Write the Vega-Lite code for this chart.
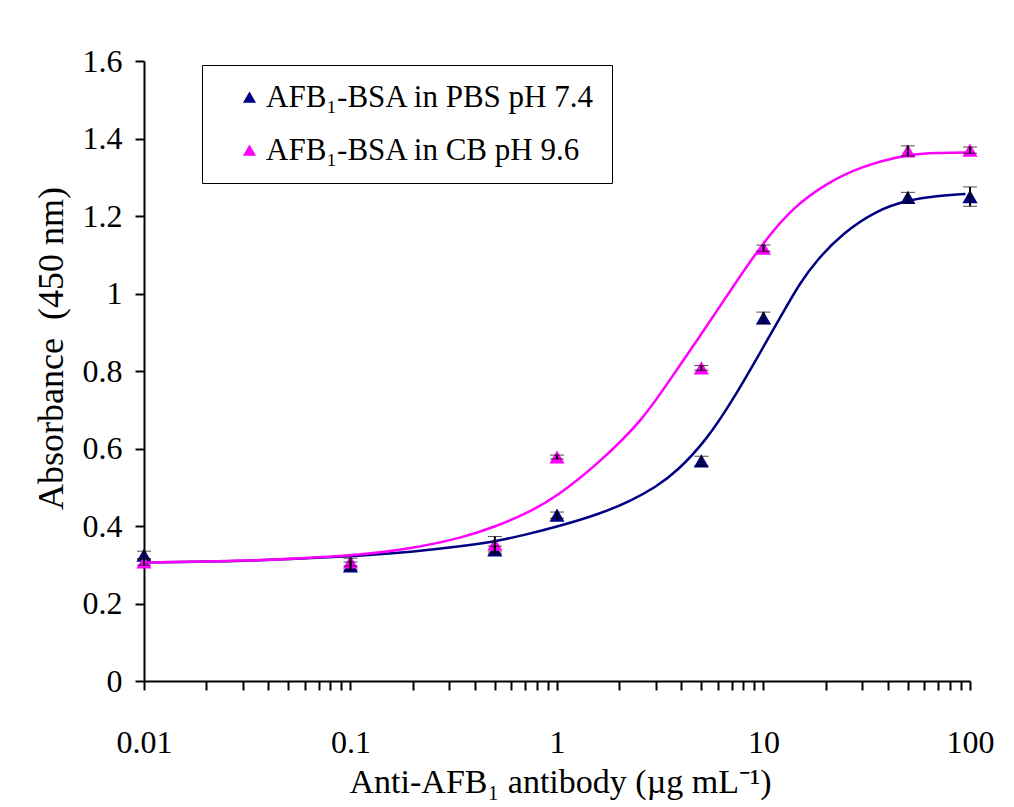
{
  "$schema": "https://vega.github.io/schema/vega-lite/v6.json",
  "width": 826,
  "height": 620,
  "autosize": {"type": "none"},
  "padding": {"left": 144, "top": 61, "right": 44, "bottom": 126},
  "background": "white",
  "config": {
    "view": {"stroke": null},
    "font": "'Liberation Serif', 'Times New Roman', Times, serif",
    "axis": {
      "labelFont": "'Liberation Serif', 'Times New Roman', Times, serif",
      "titleFont": "'Liberation Serif', 'Times New Roman', Times, serif",
      "labelFontWeight": "normal",
      "titleFontWeight": "normal",
      "labelColor": "black",
      "titleColor": "black",
      "domainColor": "black",
      "tickColor": "black",
      "domainWidth": 2,
      "tickWidth": 2,
      "grid": false
    },
    "legend": {
      "labelFont": "'Liberation Serif', 'Times New Roman', Times, serif",
      "labelColor": "black"
    }
  },
  "datasets": {
    "points": [
      {"conc": 0.01, "absorbance": 0.325, "sd": 0.010, "series": "AFB₁-BSA in PBS pH 7.4"},
      {"conc": 0.1, "absorbance": 0.297, "sd": 0.010, "series": "AFB₁-BSA in PBS pH 7.4"},
      {"conc": 0.5, "absorbance": 0.338, "sd": 0.010, "series": "AFB₁-BSA in PBS pH 7.4"},
      {"conc": 1, "absorbance": 0.428, "sd": 0.008, "series": "AFB₁-BSA in PBS pH 7.4"},
      {"conc": 5, "absorbance": 0.568, "sd": 0.012, "series": "AFB₁-BSA in PBS pH 7.4"},
      {"conc": 10, "absorbance": 0.937, "sd": 0.015, "series": "AFB₁-BSA in PBS pH 7.4"},
      {"conc": 50, "absorbance": 1.248, "sd": 0.013, "series": "AFB₁-BSA in PBS pH 7.4"},
      {"conc": 100, "absorbance": 1.250, "sd": 0.025, "series": "AFB₁-BSA in PBS pH 7.4"},
      {"conc": 0.01, "absorbance": 0.307, "sd": 0.008, "series": "AFB₁-BSA in CB pH 9.6"},
      {"conc": 0.1, "absorbance": 0.307, "sd": 0.010, "series": "AFB₁-BSA in CB pH 9.6"},
      {"conc": 0.5, "absorbance": 0.353, "sd": 0.020, "series": "AFB₁-BSA in CB pH 9.6"},
      {"conc": 1, "absorbance": 0.578, "sd": 0.005, "series": "AFB₁-BSA in CB pH 9.6"},
      {"conc": 5, "absorbance": 0.808, "sd": 0.006, "series": "AFB₁-BSA in CB pH 9.6"},
      {"conc": 10, "absorbance": 1.117, "sd": 0.008, "series": "AFB₁-BSA in CB pH 9.6"},
      {"conc": 50, "absorbance": 1.368, "sd": 0.013, "series": "AFB₁-BSA in CB pH 9.6"},
      {"conc": 100, "absorbance": 1.370, "sd": 0.008, "series": "AFB₁-BSA in CB pH 9.6"}
    ],
    "fits": [
      {"conc": 0.01, "absorbance": 0.306, "series": "AFB₁-BSA in PBS pH 7.4"},
      {"conc": 0.03, "absorbance": 0.309, "series": "AFB₁-BSA in PBS pH 7.4"},
      {"conc": 0.1, "absorbance": 0.321, "series": "AFB₁-BSA in PBS pH 7.4"},
      {"conc": 0.2, "absorbance": 0.333, "series": "AFB₁-BSA in PBS pH 7.4"},
      {"conc": 0.35, "absorbance": 0.348, "series": "AFB₁-BSA in PBS pH 7.4"},
      {"conc": 0.5, "absorbance": 0.360, "series": "AFB₁-BSA in PBS pH 7.4"},
      {"conc": 0.7, "absorbance": 0.377, "series": "AFB₁-BSA in PBS pH 7.4"},
      {"conc": 1.0, "absorbance": 0.398, "series": "AFB₁-BSA in PBS pH 7.4"},
      {"conc": 1.6, "absorbance": 0.430, "series": "AFB₁-BSA in PBS pH 7.4"},
      {"conc": 2.32, "absorbance": 0.467, "series": "AFB₁-BSA in PBS pH 7.4"},
      {"conc": 3.0, "absorbance": 0.500, "series": "AFB₁-BSA in PBS pH 7.4"},
      {"conc": 3.8, "absorbance": 0.540, "series": "AFB₁-BSA in PBS pH 7.4"},
      {"conc": 5.3, "absorbance": 0.622, "series": "AFB₁-BSA in PBS pH 7.4"},
      {"conc": 7.1, "absorbance": 0.725, "series": "AFB₁-BSA in PBS pH 7.4"},
      {"conc": 9.6, "absorbance": 0.846, "series": "AFB₁-BSA in PBS pH 7.4"},
      {"conc": 12.4, "absorbance": 0.950, "series": "AFB₁-BSA in PBS pH 7.4"},
      {"conc": 15.0, "absorbance": 1.027, "series": "AFB₁-BSA in PBS pH 7.4"},
      {"conc": 18.1, "absorbance": 1.086, "series": "AFB₁-BSA in PBS pH 7.4"},
      {"conc": 24.2, "absorbance": 1.156, "series": "AFB₁-BSA in PBS pH 7.4"},
      {"conc": 35.4, "absorbance": 1.215, "series": "AFB₁-BSA in PBS pH 7.4"},
      {"conc": 50, "absorbance": 1.241, "series": "AFB₁-BSA in PBS pH 7.4"},
      {"conc": 69, "absorbance": 1.252, "series": "AFB₁-BSA in PBS pH 7.4"},
      {"conc": 95, "absorbance": 1.257, "series": "AFB₁-BSA in PBS pH 7.4"},
      {"conc": 0.01, "absorbance": 0.306, "series": "AFB₁-BSA in CB pH 9.6"},
      {"conc": 0.03, "absorbance": 0.309, "series": "AFB₁-BSA in CB pH 9.6"},
      {"conc": 0.1, "absorbance": 0.322, "series": "AFB₁-BSA in CB pH 9.6"},
      {"conc": 0.2, "absorbance": 0.342, "series": "AFB₁-BSA in CB pH 9.6"},
      {"conc": 0.35, "absorbance": 0.370, "series": "AFB₁-BSA in CB pH 9.6"},
      {"conc": 0.5, "absorbance": 0.398, "series": "AFB₁-BSA in CB pH 9.6"},
      {"conc": 0.7, "absorbance": 0.430, "series": "AFB₁-BSA in CB pH 9.6"},
      {"conc": 1.0, "absorbance": 0.476, "series": "AFB₁-BSA in CB pH 9.6"},
      {"conc": 1.6, "absorbance": 0.563, "series": "AFB₁-BSA in CB pH 9.6"},
      {"conc": 2.6, "absorbance": 0.673, "series": "AFB₁-BSA in CB pH 9.6"},
      {"conc": 3.6, "absorbance": 0.785, "series": "AFB₁-BSA in CB pH 9.6"},
      {"conc": 4.9, "absorbance": 0.888, "series": "AFB₁-BSA in CB pH 9.6"},
      {"conc": 7.1, "absorbance": 1.017, "series": "AFB₁-BSA in CB pH 9.6"},
      {"conc": 9.9, "absorbance": 1.130, "series": "AFB₁-BSA in CB pH 9.6"},
      {"conc": 13.9, "absorbance": 1.223, "series": "AFB₁-BSA in CB pH 9.6"},
      {"conc": 20.3, "absorbance": 1.285, "series": "AFB₁-BSA in CB pH 9.6"},
      {"conc": 29.3, "absorbance": 1.327, "series": "AFB₁-BSA in CB pH 9.6"},
      {"conc": 50, "absorbance": 1.360, "series": "AFB₁-BSA in CB pH 9.6"},
      {"conc": 70, "absorbance": 1.363, "series": "AFB₁-BSA in CB pH 9.6"},
      {"conc": 100, "absorbance": 1.364, "series": "AFB₁-BSA in CB pH 9.6"}
    ]
  },
  "encoding": {
    "x": {
      "field": "conc",
      "type": "quantitative",
      "scale": {"type": "log", "domain": [0.01, 100], "nice": false},
      "axis": {
        "title": "Anti-AFB₁ antibody (µg mL⁻¹)",
        "values": [0.01, 0.02, 0.03, 0.04, 0.05, 0.06, 0.07, 0.08, 0.09,
                   0.1, 0.2, 0.3, 0.4, 0.5, 0.6, 0.7, 0.8, 0.9,
                   1, 2, 3, 4, 5, 6, 7, 8, 9,
                   10, 20, 30, 40, 50, 60, 70, 80, 90, 100],
        "labelExpr": "(datum.value == 0.01 || datum.value == 0.1 || datum.value == 1 || datum.value == 10 || datum.value == 100) ? datum.label : ''",
        "format": "~g",
        "labelFontSize": 32,
        "labelBaseline": "alphabetic",
        "labelPadding": 62,
        "labelOverlap": false,
        "labelFlush": false,
        "labelBound": false,
        "tickSize": 9,
        "titleFontSize": 34,
        "titleBaseline": "alphabetic",
        "titleX": 416,
        "titleY": 111,
        "titleAlign": "center"
      }
    },
    "y": {
      "field": "absorbance",
      "type": "quantitative",
      "scale": {"domain": [0, 1.6], "nice": false, "zero": false},
      "axis": {
        "title": "Absorbance\u00a0 (450 nm)",
        "values": [0, 0.2, 0.4, 0.6, 0.8, 1, 1.2, 1.4, 1.6],
        "format": "~f",
        "labelFontSize": 32,
        "labelPadding": 13,
        "labelBaseline": "middle",
        "tickSize": 9,
        "titleFontSize": 36,
        "titleBaseline": "alphabetic",
        "titleAngle": 270,
        "titleX": -82,
        "titleY": 287,
        "titleAlign": "center"
      }
    }
  },
  "layer": [
    {
      "data": {"name": "points"},
      "mark": {"type": "point", "shape": "triangle-up", "filled": true, "opacity": 1, "size": 230},
      "encoding": {
        "color": {
          "field": "series",
          "type": "nominal",
          "scale": {
            "domain": ["AFB₁-BSA in PBS pH 7.4", "AFB₁-BSA in CB pH 9.6"],
            "range": ["#000080", "#FF00FF"]
          },
          "legend": {
            "title": null,
            "orient": "none",
            "legendX": 58,
            "legendY": 4,
            "direction": "vertical",
            "strokeColor": "black",
            "fillColor": "white",
            "padding": 17,
            "symbolOffset": 15,
            "symbolType": "triangle-up",
            "symbolSize": 110,
            "labelFontSize": 31,
            "labelOffset": 1,
            "rowPadding": 21,
            "labelLimit": 500
          }
        }
      }
    },
    {
      "data": {"name": "fits"},
      "mark": {"type": "line", "interpolate": "basis", "strokeWidth": 2.5},
      "encoding": {
        "color": {"field": "series", "type": "nominal", "legend": null},
        "detail": {"field": "series"}
      }
    },
    {
      "data": {"name": "points"},
      "mark": {
        "type": "errorbar",
        "color": "black",
        "rule": {"strokeWidth": 2},
        "ticks": {"size": 14, "strokeWidth": 2.5, "color": "black"}
      },
      "encoding": {
        "yError": {"field": "sd"},
        "detail": {"field": "series"}
      }
    }
  ]
}
